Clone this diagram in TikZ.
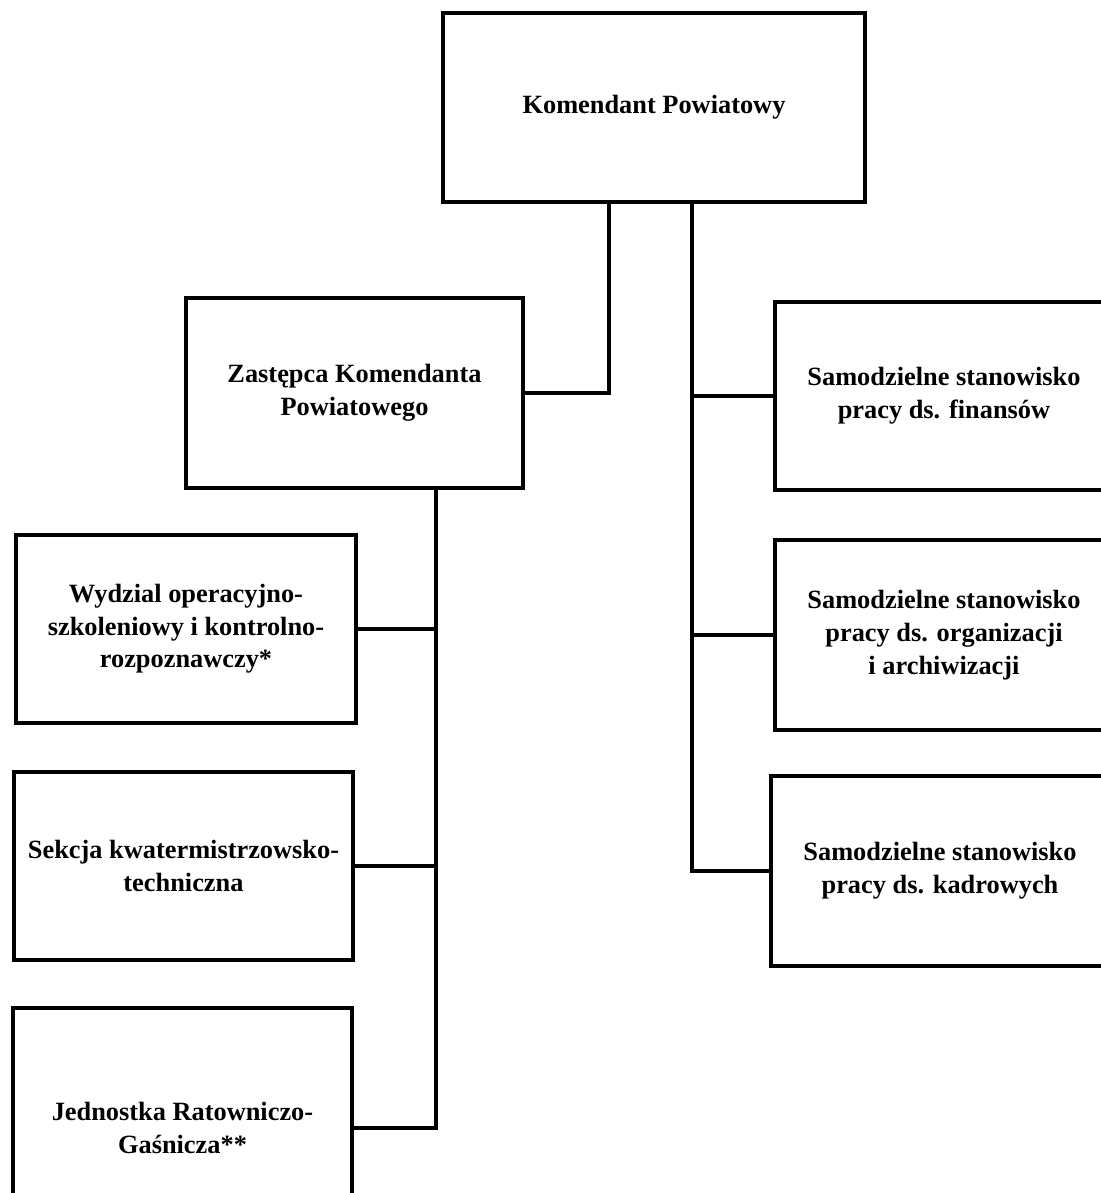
\documentclass[tikz,border=0pt]{standalone}
\usepackage{fontspec}
\setmainfont{Liberation Serif}
\begin{document}
\begin{tikzpicture}[x=0.2mm, y=-0.2mm,
    box/.style={draw, line width=0.8mm, align=center, inner sep=0pt,
        font=\fontsize{15}{18.6}\selectfont\bfseries},
    link/.style={line width=0.8mm}]
    \useasboundingbox (0,0) rectangle (1101,1193);
    \clip (0,0) rectangle (1101,1193);

    % Top
    \node[box, minimum width=84.4mm, minimum height=37.8mm] (komendant) at (654,107.5) {Komendant Powiatowy};

    % Deputy and its units
    \node[box, minimum width=67.4mm, minimum height=38mm] (zastepca) at (354.5,393) {Zastępca Komendanta\\Powiatowego};
    \node[box, minimum width=68mm, minimum height=37.6mm] (wydzial) at (186,629) {Wydzial operacyjno-\\szkoleniowy i kontrolno-\\rozpoznawczy*};
    \node[box, minimum width=67.8mm, minimum height=37.6mm] (sekcja) at (183.5,866) {Sekcja kwatermistrzowsko-\\techniczna};
    \node[box, minimum width=67.8mm, minimum height=48mm] (jednostka) at (182.5,1128) {Jednostka Ratowniczo-\\Gaśnicza**};

    % Independent posts
    \node[box, minimum width=67.6mm, minimum height=37.6mm] (finanse) at (944,396) {Samodzielne stanowisko\\pracy ds. finansów};
    \node[box, minimum width=67.6mm, minimum height=38mm] (organizacja) at (944,635) {Samodzielne stanowisko\\pracy ds. organizacji\\i archiwizacji};
    \node[box, minimum width=67.6mm, minimum height=38mm] (kadry) at (940,871) {Samodzielne stanowisko\\pracy ds. kadrowych};

    % Connectors
    \coordinate (ltrunk) at (komendant.south -| 609,0);
    \coordinate (rtrunk) at (komendant.south -| 692,0);
    \coordinate (dtrunk) at (zastepca.south -| 436,0);
    \draw[link] (ltrunk) |- (zastepca.east);
    \draw[link] (rtrunk) |- (kadry.west);
    \draw[link] (rtrunk) |- (finanse.west);
    \draw[link] (rtrunk) |- (organizacja.west);
    \draw[link] (dtrunk) |- (jednostka.east);
    \draw[link] (dtrunk) |- (wydzial.east);
    \draw[link] (dtrunk) |- (sekcja.east);
\end{tikzpicture}
\end{document}
